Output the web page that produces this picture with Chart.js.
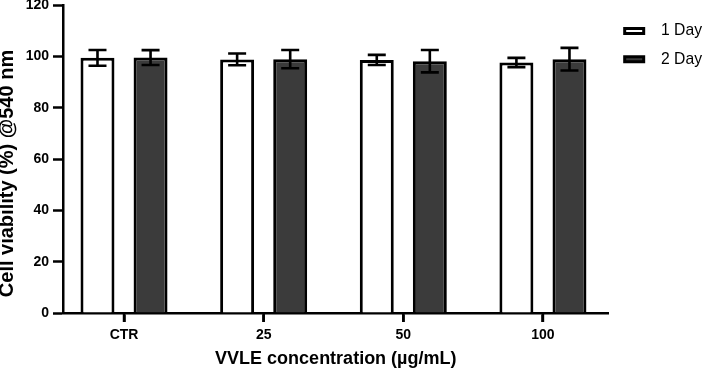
<!DOCTYPE html>
<html>
<head>
<meta charset="utf-8">
<script src="https://cdn.jsdelivr.net/npm/chart.js@4/dist/chart.umd.min.js"></script>
<style>
  html, body { margin: 0; padding: 0; background: #fff; }
  #wrap { width: 709px; height: 373px; }
</style>
</head>
<body>
<div id="wrap"><canvas id="c" width="709" height="373"></canvas></div>
<script>
// ---- data ----
const categories = ['CTR', '25', '50', '100'];
const seriesNames = ['1 Day', '2 Day'];
const day1Mean = [99.4, 98.8, 98.6, 97.6];
const day1Err  = [3.05, 2.3, 1.95, 1.8];
const day2Mean = [99.5, 98.9, 98.1, 98.9];
const day2Err  = [2.9, 3.55, 4.35, 4.4];
const yTicks = [0, 20, 40, 60, 80, 100, 120];

const FONT = "'Liberation Sans', Arial, Helvetica, sans-serif";
const fills = ['#ffffff', '#3b3b3b'];
const errs = [day1Err, day2Err];

function legendSwatch(fill) {
  const cv = document.createElement('canvas');
  cv.width = 32; cv.height = 10;
  const g = cv.getContext('2d');
  g.fillStyle = fill;
  g.fillRect(2, 1, 22, 8);
  g.strokeStyle = '#000';
  g.lineWidth = 3;
  g.strokeRect(3.5, 2.5, 19, 5);
  return cv;
}
const swatches = fills.map(legendSwatch);

const errorBars = {
  id: 'errorBars',
  afterDraw(chart) {
    const ctx = chart.ctx;
    const ys = chart.scales.y;
    const xs = chart.scales.x;
    chart.data.datasets.forEach((ds, di) => {
      const meta = chart.getDatasetMeta(di);
      meta.data.forEach((bar, i) => {
        const m = ds.data[i].y, e = errs[di][i];
        const top = ys.getPixelForValue(m + e);
        const bot = ys.getPixelForValue(m - e);
        ctx.save();
        ctx.strokeStyle = '#000';
        ctx.lineWidth = 2.6;
        ctx.beginPath();
        ctx.moveTo(bar.x, top); ctx.lineTo(bar.x, bot);
        ctx.moveTo(bar.x - 9, top); ctx.lineTo(bar.x + 9, top);
        ctx.moveTo(bar.x - 9, bot); ctx.lineTo(bar.x + 9, bot);
        ctx.stroke();
        ctx.restore();
      });
    });
    // category tick marks under the x axis, at the scale's tick positions
    const b = chart.chartArea.bottom;
    ctx.save();
    ctx.fillStyle = '#000';
    for (let i = 0; i < categories.length; i++) {
      const px = xs.getPixelForValue(i);
      ctx.fillRect(px - 1.25, b, 2.5, 9);
    }
    ctx.restore();
  }
};

// shift the y-axis title slightly downward, as in the reference
const yTitleShift = {
  id: 'yTitleShift',
  afterLayout(chart) {
    const s = chart.scales.y;
    if (s && !s.__shifted) {
      const orig = s.drawTitle.bind(s);
      s.drawTitle = function () {
        this.ctx.save();
        this.ctx.translate(0, 14.5);
        orig();
        this.ctx.restore();
      };
      s.__shifted = true;
    }
  }
};

const tickFont = { family: FONT, size: 14, weight: 'bold' };

new Chart(document.getElementById('c'), {
  type: 'bar',
  data: {
    datasets: [
      { label: seriesNames[0], data: day1Mean.map((v, i) => ({ x: i, y: v })),
        backgroundColor: fills[0], borderColor: '#000', borderWidth: 3,
        categoryPercentage: 0.76, barPercentage: 0.64 },
      { label: seriesNames[1], data: day2Mean.map((v, i) => ({ x: i, y: v })),
        backgroundColor: fills[1], borderColor: '#000', borderWidth: 3,
        categoryPercentage: 0.76, barPercentage: 0.64 }
    ]
  },
  options: {
    responsive: false,
    animation: false,
    devicePixelRatio: 1,
    layout: { padding: { top: 5, left: 0, right: -3, bottom: 0 } },
    plugins: {
      tooltip: { enabled: false },
      legend: {
        position: 'right',
        align: 'start',
        title: { display: true, text: '', font: { size: 5.5, lineHeight: 1 }, padding: 0 },
        labels: {
          usePointStyle: true,
          pointStyleWidth: 32,
          padding: 12.6,
          color: '#000',
          font: { family: FONT, size: 15.7 },
          generateLabels(chart) {
            const items = Chart.defaults.plugins.legend.labels.generateLabels(chart);
            items.forEach((it, i) => { it.pointStyle = swatches[i]; });
            return items;
          }
        }
      }
    },
    scales: {
      x: {
        type: 'linear',
        min: -0.437,
        max: 3.47,
        offset: false,
        afterBuildTicks(s) { s.ticks = categories.map((_, i) => ({ value: i })); },
        afterFit(s) { s.height = 60; s.paddingLeft = 0; s.paddingRight = 0; },
        ticks: {
          callback: v => categories[v],
          color: '#000', font: tickFont, padding: 5, maxRotation: 0, autoSkip: false
        },
        grid: { display: true, offset: false, drawOnChartArea: false, drawTicks: true,
                tickLength: 9, tickWidth: 2.5, tickColor: '#000' },
        border: { display: true, color: '#000', width: 2.5 },
        title: { display: true, text: 'VVLE concentration (µg/mL)', color: '#000',
                 font: { family: FONT, size: 18, weight: 'bold', lineHeight: 1.2 },
                 padding: { top: 0, bottom: 2.8 } }
      },
      y: {
        min: 0, max: 120,
        afterBuildTicks(s) { s.ticks = yTicks.map(v => ({ value: v })); },
        afterFit(s) { s.width = 63; s.paddingTop = 0; s.paddingBottom = 0; },
        ticks: { color: '#000', font: tickFont, padding: 4 },
        grid: { display: true, drawOnChartArea: false, drawTicks: true,
                tickLength: 10, tickWidth: 2.5, tickColor: '#000' },
        border: { display: true, color: '#000', width: 2.5 },
        title: { display: true, text: 'Cell viability (%) @540 nm', color: '#000',
                 font: { family: FONT, size: 20, weight: 'bold', lineHeight: 0.75 },
                 padding: 0 }
      }
    }
  },
  plugins: [errorBars, yTitleShift]
});
</script>
</body>
</html>
